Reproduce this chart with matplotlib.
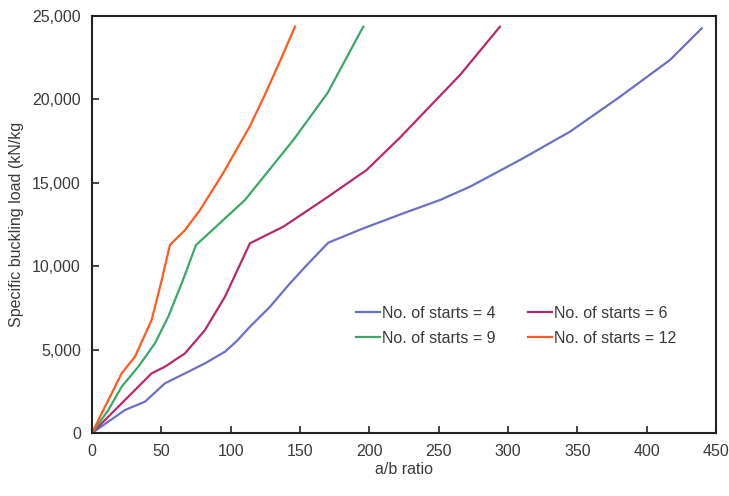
import matplotlib
matplotlib.use("Agg")
import matplotlib.pyplot as plt
from matplotlib.ticker import FuncFormatter, MultipleLocator

plt.rcParams['font.family'] = ['Liberation Sans', 'DejaVu Sans']

# Data
x4 = [0, 23.8, 38.2, 52.6, 67.1, 81.5, 95.9, 104.3, 113.9, 128.4, 142.8, 157.2,
      170.4, 195.7, 224.5, 251, 272.6, 308.6, 344.7, 380.8, 416.8, 439.7]
y4 = [0, 1379, 1877, 2978, 3576, 4176, 4875, 5500, 6373, 7572, 8975, 10270,
      11410, 12270, 13170, 13970, 14767, 16367, 18065, 20162, 22362, 24260]

x6 = [0, 21.4, 33.4, 43, 52.6, 67.1, 81.5, 95.9, 113.9, 138, 166.8, 198,
      222, 236.5, 265.4, 294.2]
y6 = [0, 1780, 2776, 3576, 3975, 4778, 6175, 8172, 11373, 12370, 13970, 15767,
      17700, 18963, 21463, 24360]

x9 = [0, 11.8, 21.4, 33.4, 45.4, 55, 64.7, 75, 80.3, 110.3, 145.2, 170,
      193, 195.7]
y9 = [0, 1379, 2776, 3975, 5378, 6973, 8975, 11271, 11670, 13970, 17566, 20400,
      23960, 24360]

x12 = [0, 9.4, 21.4, 31, 43, 50.3, 56.2, 67.1, 77.9, 94.7, 113.9, 124.5,
       135.6, 146.4]
y12 = [0, 1580, 3576, 4576, 6775, 9173, 11271, 12170, 13370, 15600, 18400,
       20250, 22300, 24360]

labels = ["No. of starts = 4", "No. of starts = 6",
          "No. of starts = 9", "No. of starts = 12"]
colors = ["#6b70c6", "#b8286c", "#3aa866", "#ff5a1f"]

fig = plt.figure(figsize=(7.29, 4.96), dpi=100)
ax = fig.add_axes([92/729, 1-433/496, 624/729, 417/496])

series = [(x4, y4), (x6, y6), (x9, y9), (x12, y12)]
handles = []
for (xs, ys), lab, c in zip(series, labels, colors):
    h, = ax.plot(xs, ys, color=c, lw=1.6, label=lab)
    handles.append(h)

ax.set_xlim(0, 450)
ax.set_ylim(0, 25000)
ax.xaxis.set_major_locator(MultipleLocator(50))
ax.yaxis.set_major_locator(MultipleLocator(5000))
ax.yaxis.set_major_formatter(FuncFormatter(lambda v, p: f"{int(v):,}"))

txtc = "#3a3a3a"
ax.tick_params(axis='both', direction='in', length=5, width=1.2,
               labelsize=11.5, labelcolor=txtc, color="#222222", pad=8)
for s in ax.spines.values():
    s.set_linewidth(1.5)
    s.set_color("#222222")

ax.set_xlabel("a/b ratio", fontsize=11.5, color=txtc, labelpad=2)
ax.set_ylabel("Specific buckling load (kN/kg", fontsize=11.5, color=txtc, labelpad=6)

order = [0, 2, 1, 3]
leg = ax.legend([handles[i] for i in order], [labels[i] for i in order],
                ncol=2, frameon=False, loc='center left',
                bbox_to_anchor=(0.41, 0.257), borderpad=0,
                handlelength=1.5, handletextpad=0.15, columnspacing=2.0,
                labelspacing=0.6, fontsize=11.5)
for t in leg.get_texts():
    t.set_color(txtc)

fig.savefig("out.png", dpi=100)
